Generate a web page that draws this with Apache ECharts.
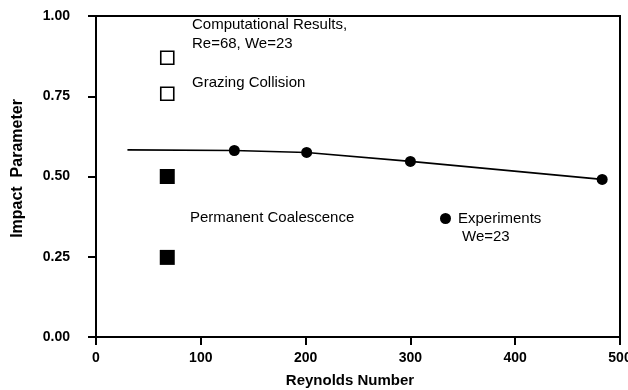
<!DOCTYPE html>
<html>
<head>
<meta charset="utf-8">
<script src="https://cdn.jsdelivr.net/npm/echarts@6/dist/echarts.min.js"></script>
<style>
html,body{margin:0;padding:0;background:#fff;}
#c{width:628px;height:390px;}
</style>
</head>
<body>
<div id="c"></div>
<script>
// Data
var xTicks = [0, 100, 200, 300, 400, 500];
var yTicks = [0.00, 0.25, 0.50, 0.75, 1.00];
var experimentsRe = [132, 201, 300, 483];
var experimentsB = [0.581, 0.575, 0.547, 0.491];
var fitRe = [30, 132, 201, 300, 483];
var fitB = [0.583, 0.581, 0.575, 0.547, 0.491];
var grazingRe = [68, 68];
var grazingB = [0.87, 0.758];
var coalescenceRe = [68, 68];
var coalescenceB = [0.50, 0.248];

function pairs(xs, ys){ return xs.map(function(x,i){ return [x, ys[i]]; }); }

var FONT = '"Liberation Sans", Arial, Helvetica, sans-serif';
var chart = echarts.init(document.getElementById('c'), null, {renderer:'canvas'});
chart.setOption({
  backgroundColor: '#fff',
  animation: false,
  grid: {left: 96, right: 8, top: 16, bottom: 53, show: true, borderColor: '#000', borderWidth: 2,
    backgroundColor: 'transparent', containLabel: false, outerBoundsMode: 'none'},
  xAxis: {
    type: 'value', min: xTicks[0], max: xTicks[xTicks.length-1], interval: 100,
    name: 'Reynolds Number', nameLocation: 'middle', nameGap: 36,
    nameTextStyle: {fontFamily: FONT, fontSize: 15, fontWeight: 'bold', color: '#000', padding: [0, 16, 0, 0]},
    axisLine: {show: true, lineStyle: {color: '#000', width: 2}},
    axisTick: {show: true, length: 8, inside: false, lineStyle: {color: '#000', width: 2}},
    axisLabel: {fontFamily: FONT, fontSize: 14, fontWeight: 'bold', color: '#000', margin: 14},
    splitLine: {show: false}
  },
  yAxis: {
    type: 'value', min: yTicks[0], max: yTicks[yTicks.length-1], interval: 0.25,
    name: 'Impact  Parameter', nameLocation: 'middle', nameGap: 70, nameRotate: 90,
    nameTextStyle: {fontFamily: FONT, fontSize: 16, fontWeight: 'bold', color: '#000', padding: [0, 0, 0, 16]},
    axisLine: {show: true, lineStyle: {color: '#000', width: 2}},
    axisTick: {show: true, length: 8, inside: false, lineStyle: {color: '#000', width: 2}},
    axisLabel: {fontFamily: FONT, fontSize: 14, fontWeight: 'bold', color: '#000', margin: 26,
      formatter: function(v){ return v.toFixed(2); }},
    splitLine: {show: false}
  },
  legend: {
    left: 435, top: 206, itemWidth: 11, itemHeight: 11, itemGap: 10,
    data: [{name: 'Experiments', icon: 'circle'}],
    textStyle: {fontFamily: FONT, fontSize: 15, color: '#000', padding: [0,0,0,2]},
    selectedMode: false
  },
  graphic: [
    {type: 'text', left: 192, top: 15, style: {text: 'Computational Results,\nRe=68, We=23', font: '15px ' + FONT, fill: '#000', lineHeight: 19}},
    {type: 'text', left: 192, top: 75, style: {text: 'Grazing Collision', font: '15px ' + FONT, fill: '#000'}},
    {type: 'text', left: 190, top: 210, style: {text: 'Permanent Coalescence', font: '15px ' + FONT, fill: '#000'}},
    {type: 'text', left: 462, top: 229, style: {text: 'We=23', font: '15px ' + FONT, fill: '#000'}}
  ],
  series: [
    {name: 'fit', type: 'line', data: pairs(fitRe, fitB), symbol: 'none', smooth: false,
      lineStyle: {color: '#000', width: 1.6}, z: 2},
    {name: 'Experiments', type: 'scatter', data: pairs(experimentsRe, experimentsB), symbol: 'circle', symbolSize: 11,
      itemStyle: {color: '#000', opacity: 1}, z: 3},
    {name: 'Grazing Collision', type: 'scatter', data: pairs(grazingRe, grazingB), symbol: 'rect', symbolSize: 13,
      itemStyle: {color: '#fff', borderColor: '#000', borderWidth: 1.6, opacity: 1}, z: 3},
    {name: 'Permanent Coalescence', type: 'scatter', data: pairs(coalescenceRe, coalescenceB), symbol: 'rect', symbolSize: 15,
      itemStyle: {color: '#000', opacity: 1}, z: 3}
  ]
});
</script>
</body>
</html>
